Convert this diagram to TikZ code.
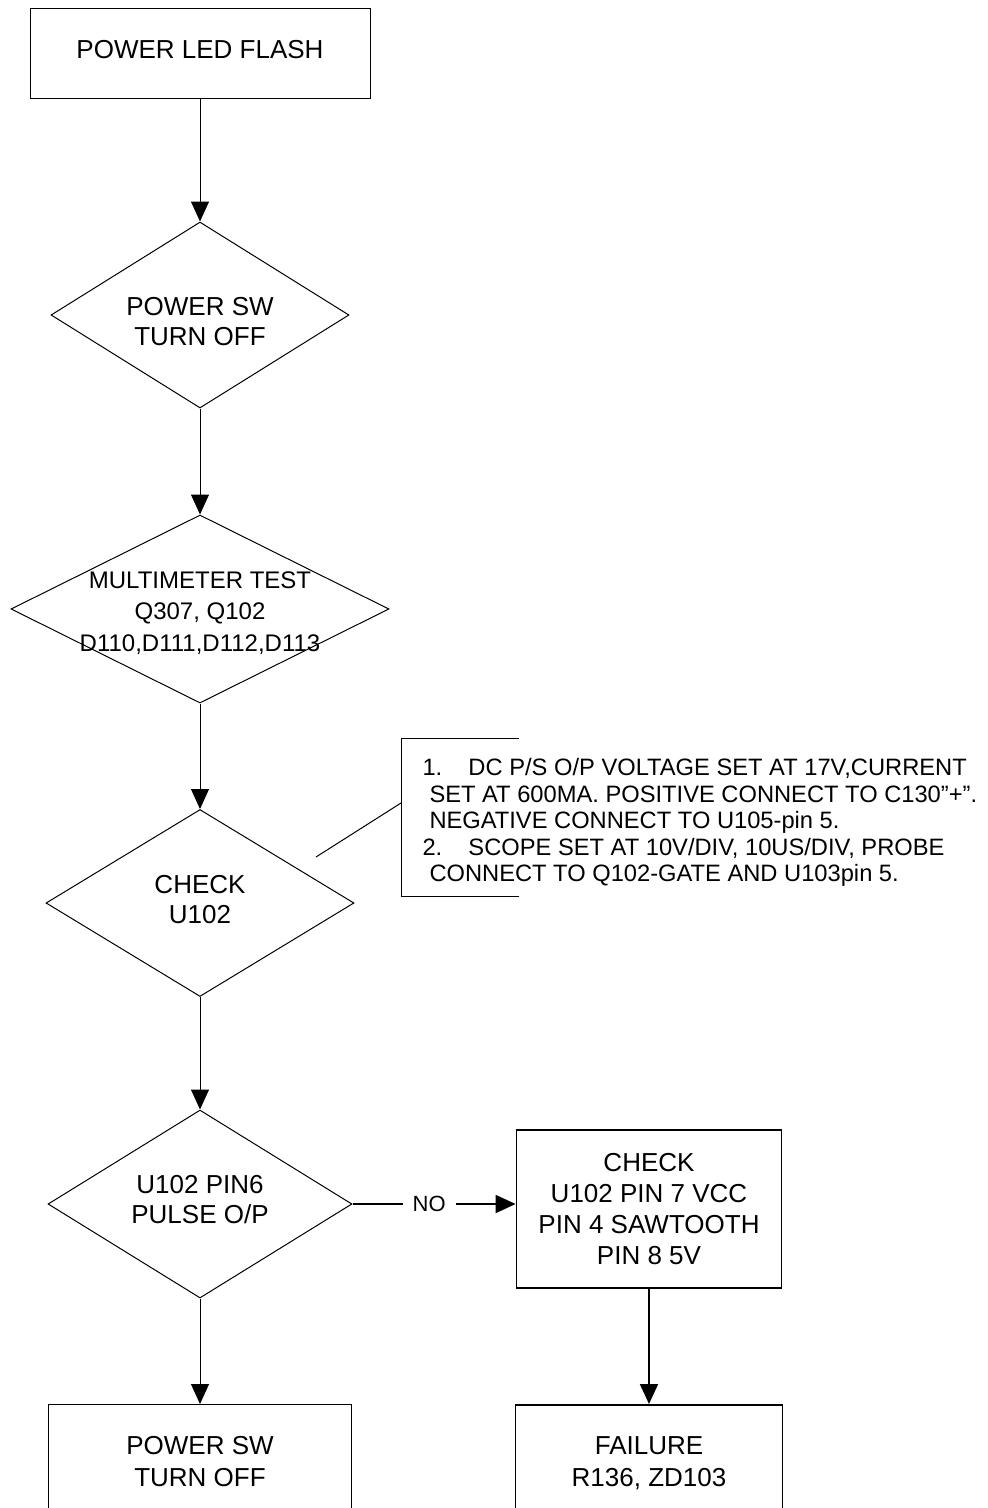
\documentclass[tikz,border=0pt]{standalone}
\usepackage{fontspec}
\setmainfont{Liberation Sans}
\usepackage{tikz}
\usetikzlibrary{shapes.geometric}
\usetikzlibrary{arrows.meta}

\begin{document}
\begin{tikzpicture}[x=1pt, y=-1pt, line width=1pt,
    box/.style={draw, rectangle, align=center, inner sep=0pt, font={\fontsize{26}{31}\selectfont}},
    decision/.style={draw, diamond, inner sep=0pt},
    txt/.style={align=center, inner sep=0pt},
    flow/.style={-{Triangle[length=20pt,width=18pt]}},
    heavy/.style={line width=1.8pt}]

    \clip (0,0) rectangle (988,1508);
    \fill[white] (0,0) rectangle (988,1508);

    % Main column
    \node[box, minimum width=340pt, minimum height=90pt, text depth=8pt] (flash) at (200,53) {POWER LED FLASH};

    \node[decision, minimum width=298pt, minimum height=186pt] (swoff) at (200,315) {};
    \node[txt, font={\fontsize{26}{30}\selectfont}] (swofft) at (200,322) {POWER SW\\TURN OFF};

    \node[decision, minimum width=378pt, minimum height=188pt] (meter) at (200,609) {};
    \node[txt, font={\fontsize{24}{31.5}\selectfont}] (metert) at (200,613) {MULTIMETER TEST\\Q307, Q102\\D110,D111,D112,D113};

    \node[decision, minimum width=308pt, minimum height=187pt] (chk) at (200,903) {};
    \node[txt, font={\fontsize{26}{30}\selectfont}] (chkt) at (200,900) {CHECK\\U102};

    \node[decision, minimum width=304pt, minimum height=188pt] (pulse) at (200,1204) {};
    \node[txt, font={\fontsize{26}{30}\selectfont}] (pulset) at (200,1199.5) {U102 PIN6\\PULSE O/P};

    % Bottom boxes (cut by the page edge)
    \node[box, anchor=north, minimum width=303pt, inner ysep=32pt, font={\fontsize{26}{32}\selectfont}] (off) at (200,1404) {POWER SW\\TURN OFF};

    % Right branch
    \node[box, heavy, minimum width=265pt, minimum height=158pt] (vcc) at (649,1209) {CHECK\\U102 PIN 7 VCC\\PIN 4 SAWTOOTH\\PIN 8 5V};
    \node[box, heavy, anchor=north, minimum width=267pt, inner ysep=32pt, font={\fontsize{26}{32}\selectfont}] (fail) at (649,1404) {FAILURE\\R136, ZD103};

    % Connectors
    \draw[flow] (flash) -- (swoff);
    \draw[flow] (swoff) -- (meter);
    \draw[flow] (meter) -- (chk);
    \draw[flow] (chk) -- (pulse);
    \draw[flow] (pulse) -- (off);
    \draw[flow, heavy] (pulse.east) -- (pulse.east -| vcc.west)
        node[pos=0.47, fill=white, inner xsep=10pt, inner ysep=2pt, font={\fontsize{22}{26}\selectfont}] (no) {NO};
    \draw[flow, heavy] (vcc) -- (fail);

    % Note for the check step
    \draw (519,738) -| (401,896) -- (519,896);
    \coordinate (lead) at (316,857);
    \draw (lead) -- (401,803);
    \node[anchor=north west, align=left, inner sep=0pt, font={\fontsize{23.7}{26.5}\selectfont}] (note) at (422,758)
        {\makebox[46pt][l]{1.}DC P/S O/P VOLTAGE SET AT 17V,CURRENT\\
         \hspace*{7pt}SET AT 600MA. POSITIVE CONNECT TO C130”+”.\\
         \hspace*{7pt}NEGATIVE CONNECT TO U105-pin 5.\\
         \makebox[46pt][l]{2.}SCOPE SET AT 10V/DIV, 10US/DIV, PROBE\\
         \hspace*{7pt}CONNECT TO Q102-GATE AND U103pin 5.};

\end{tikzpicture}
\end{document}
